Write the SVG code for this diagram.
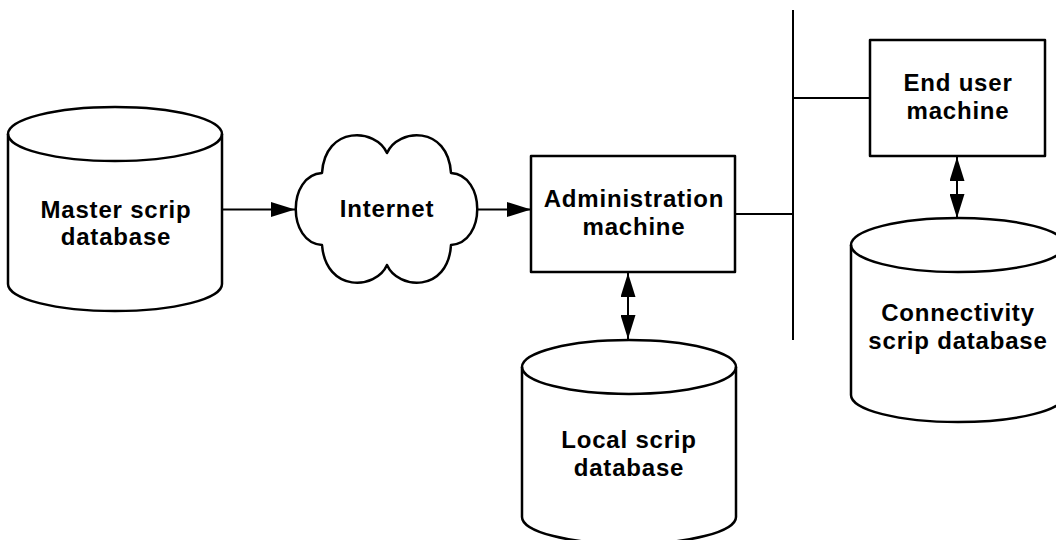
<svg xmlns="http://www.w3.org/2000/svg" width="1056" height="540" viewBox="0 0 1056 540">
<style>
.shape{fill:#fff;stroke:#000;stroke-width:2.5;stroke-linejoin:round}
.line{fill:none;stroke:#000;stroke-width:2}
.lbl{font-family:"Liberation Sans",Arial,Helvetica,sans-serif;font-weight:bold;font-size:24px;letter-spacing:0.8px;text-anchor:middle;fill:#000}
</style>
<defs>
<marker id="ah" viewBox="0 0 24 15" refX="24" refY="7.5" markerWidth="24" markerHeight="15" markerUnits="userSpaceOnUse" orient="auto-start-reverse">
<path d="M0,0 L24,7.5 L0,15 Z" fill="#000"/>
</marker>
</defs>
<rect width="1056" height="540" fill="#fff"/>
<g id="connectors">
<line class="line" x1="222" y1="209.5" x2="295" y2="209.5" marker-end="url(#ah)"/>
<line class="line" x1="477" y1="209.5" x2="531" y2="209.5" marker-end="url(#ah)"/>
<line class="line" x1="628" y1="273" x2="628" y2="339" marker-start="url(#ah)" marker-end="url(#ah)"/>
<line class="line" x1="957" y1="157" x2="957" y2="218" marker-start="url(#ah)" marker-end="url(#ah)"/>
<line class="line" x1="793" y1="10" x2="793" y2="340"/>
<line class="line" x1="735" y1="214" x2="793" y2="214"/>
<line class="line" x1="793" y1="98" x2="870" y2="98"/>
</g>
<g id="master">
<path class="shape" d="M8,134 A107,27 0 0 1 222,134 L222,284 A107,27 0 0 1 8,284 Z"/>
<path class="line" style="stroke-width:2.5" d="M8,134 A107,27 0 0 0 222,134"/>
<text class="lbl" x="116" y="218">Master scrip</text>
<text class="lbl" x="116" y="245">database</text>
</g>
<g id="internet">
<path class="shape" d="M387,153 C398,128 448,125 451,173 C486,175 486,243 451,245 C448,293 398,290 387,265 C376,290 326,293 322,245 C287,243 287,175 322,173 C325,125 376,128 387,153 Z"/>
<text class="lbl" x="387" y="217">Internet</text>
</g>
<g id="admin">
<rect class="shape" x="531" y="156" width="204" height="116"/>
<text class="lbl" x="634" y="207">Administration</text>
<text class="lbl" x="634" y="235">machine</text>
</g>
<g id="local">
<path class="shape" d="M522,367 A107,27 0 0 1 736,367 L736,517 A107,27 0 0 1 522,517 Z"/>
<path class="line" style="stroke-width:2.5" d="M522,367 A107,27 0 0 0 736,367"/>
<text class="lbl" x="629" y="448">Local scrip</text>
<text class="lbl" x="629" y="476">database</text>
</g>
<g id="enduser">
<rect class="shape" x="870" y="40" width="175" height="116"/>
<text class="lbl" x="958" y="91">End user</text>
<text class="lbl" x="958" y="119">machine</text>
</g>
<g id="connectivity">
<path class="shape" d="M851,245 A107,27 0 0 1 1065,245 L1065,395 A107,27 0 0 1 851,395 Z"/>
<path class="line" style="stroke-width:2.5" d="M851,245 A107,27 0 0 0 1065,245"/>
<text class="lbl" x="958" y="321">Connectivity</text>
<text class="lbl" x="958" y="349">scrip database</text>
</g>
</svg>
